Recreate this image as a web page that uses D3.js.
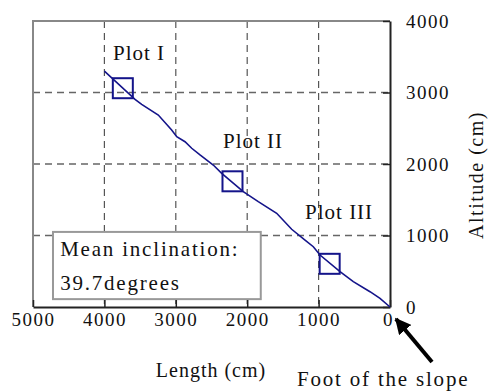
<!DOCTYPE html>
<html>
<head>
<meta charset="utf-8">
<script src="https://cdn.jsdelivr.net/npm/d3@7"></script>
<style>
  body { margin: 0; background: #fff; }
</style>
</head>
<body>
<div id="chart"></div>
<script>
// Perfil de la ladera (longitud desde el pie, altitud) en cm
const profileLength   = [4000, 3571, 3478, 3245, 3058, 2987, 2871, 2777, 2661, 2475, 2357, 2055, 1845, 1587, 1377, 1190, 1074, 980, 700, 514, 280, 140, 0];
const profileAltitude = [3300, 2905, 2835, 2685, 2476, 2382, 2312, 2220, 2126, 1986, 1870, 1613, 1473, 1311, 1087, 937, 843, 727, 494, 354, 214, 122, 0];

// Parcelas
const plotNames    = ["Plot I", "Plot II", "Plot III"];
const plotLength   = [3742, 2206, 845];
const plotAltitude = [3060, 1758, 604];
const labelLength   = [3880, 2339, 1190];
const labelAltitude = [3455, 2224, 1231];

// Ticks
const xTicks = [5000, 4000, 3000, 2000, 1000, 0];
const yTicks = [0, 1000, 2000, 3000, 4000];

const noteLines = ["Mean inclination:", "39.7degrees"];

const width = 491;
const height = 392;
const margin = { top: 21, right: 101, bottom: 85, left: 33 };
const serif = "'Liberation Serif', 'Times New Roman', Times, 'DejaVu Serif', serif";

const svg = d3.select("#chart")
    .append("svg")
    .attr("width", width)
    .attr("height", height)
    .attr("font-family", serif);

const x = d3.scaleLinear().domain([5000, 0]).range([margin.left, width - margin.right]);
const y = d3.scaleLinear().domain([0, 4000]).range([height - margin.bottom, margin.top]);

const navy = "#14148a";

// Rejilla discontinua
svg.append("g")
    .selectAll("line")
    .data(xTicks.filter(d => d !== 5000 && d !== 0))
    .enter().append("line")
    .attr("x1", d => x(d)).attr("x2", d => x(d))
    .attr("y1", y(4000)).attr("y2", y(0))
    .attr("stroke", "#555")
    .attr("stroke-width", 1.2)
    .attr("stroke-dasharray", "7,5");

svg.append("g")
    .selectAll("line")
    .data(yTicks.filter(d => d !== 0 && d !== 4000))
    .enter().append("line")
    .attr("x1", x(5000)).attr("x2", x(0))
    .attr("y1", d => y(d)).attr("y2", d => y(d))
    .attr("stroke", "#666")
    .attr("stroke-width", 1.6)
    .attr("stroke-dasharray", "7,5");

// Marco superior e izquierdo (gris)
svg.append("path")
    .attr("d", `M${x(5000)},${y(0)}V${y(4000)}H${x(0)}`)
    .attr("fill", "none")
    .attr("stroke", "#888")
    .attr("stroke-width", 2);

// Eje inferior
const xAxis = svg.append("g")
    .attr("transform", `translate(0,${y(0)})`)
    .call(d3.axisBottom(x).tickValues(xTicks).tickFormat(d3.format("d"))
        .tickSize(-7).tickPadding(15).tickSizeOuter(0));

// Eje derecho
const yAxis = svg.append("g")
    .attr("transform", `translate(${x(0)},0)`)
    .call(d3.axisRight(y).tickValues(yTicks).tickFormat(d3.format("d"))
        .tickSize(-7).tickPadding(16).tickSizeOuter(0));

[xAxis, yAxis].forEach(g => {
    g.attr("font-family", serif).attr("font-size", 19);
    g.select(".domain").attr("stroke", "#222").attr("stroke-width", 2);
    g.selectAll(".tick line").attr("stroke", "#222").attr("stroke-width", 1.5);
    g.selectAll(".tick text")
        .style("letter-spacing", "1.5px")
        .attr("fill", "#111");
});
xAxis.selectAll(".tick text").attr("dy", "0.2em");
yAxis.selectAll(".tick text").attr("dy", "0.32em");
xAxis.select(".tick:last-of-type text").attr("dx", "-2");

// Cuadro de inclinación media
const note = svg.append("g");
note.append("rect")
    .attr("x", x(4720)).attr("y", y(1050))
    .attr("width", x(1810) - x(4720))
    .attr("height", y(110) - y(1050))
    .attr("fill", "#fff")
    .attr("stroke", "#999")
    .attr("stroke-width", 2);
note.selectAll("text")
    .data(noteLines)
    .enter().append("text")
    .attr("x", x(4620))
    .attr("y", (d, i) => y(710) + i * 34)
    .attr("font-size", 21)
    .attr("fill", "#111")
    .style("letter-spacing", "1.8px")
    .text(d => d);

// Redibujar ticks inferiores sobre el cuadro
xAxis.raise();

// Perfil
const line = d3.line()
    .x((d, i) => x(profileLength[i]))
    .y((d, i) => y(profileAltitude[i]));

svg.append("path")
    .datum(profileLength)
    .attr("d", line)
    .attr("fill", "none")
    .attr("stroke", navy)
    .attr("stroke-width", 1.6);

// Parcelas
const sq = 20;
svg.selectAll("rect.plot")
    .data(plotNames)
    .enter().append("rect")
    .attr("class", "plot")
    .attr("x", (d, i) => x(plotLength[i]) - sq / 2)
    .attr("y", (d, i) => y(plotAltitude[i]) - sq / 2)
    .attr("width", sq)
    .attr("height", sq)
    .attr("fill", "none")
    .attr("stroke", navy)
    .attr("stroke-width", 2);

svg.selectAll("text.plotlabel")
    .data(plotNames)
    .enter().append("text")
    .attr("class", "plotlabel")
    .attr("x", (d, i) => x(labelLength[i]))
    .attr("y", (d, i) => y(labelAltitude[i]))
    .attr("font-size", 21)
    .attr("fill", "#111")
    .style("letter-spacing", "1px")
    .text(d => d);

// Títulos de ejes
svg.append("text")
    .attr("x", 211)
    .attr("y", 377)
    .attr("text-anchor", "middle")
    .attr("font-size", 20)
    .attr("fill", "#111")
    .style("letter-spacing", "1px")
    .text("Length (cm)");

svg.append("text")
    .attr("transform", "translate(483,175) rotate(-90)")
    .attr("text-anchor", "middle")
    .attr("font-size", 20)
    .attr("fill", "#111")
    .style("letter-spacing", "1.5px")
    .text("Altitude (cm)");

// Flecha al pie de la ladera
svg.append("defs").append("marker")
    .attr("id", "head")
    .attr("viewBox", "0 0 10 10")
    .attr("refX", 9).attr("refY", 5)
    .attr("markerWidth", 4).attr("markerHeight", 4)
    .attr("orient", "auto")
    .append("path")
    .attr("d", "M0,0L10,5L0,10Z")
    .attr("fill", "#000");

svg.append("line")
    .attr("x1", 432).attr("y1", 362)
    .attr("x2", 396).attr("y2", 319)
    .attr("stroke", "#000")
    .attr("stroke-width", 4)
    .attr("marker-end", "url(#head)");

svg.append("text")
    .attr("x", 297)
    .attr("y", 386)
    .attr("font-size", 21)
    .attr("fill", "#111")
    .style("letter-spacing", "1.8px")
    .text("Foot of the slope");
</script>
</body>
</html>
